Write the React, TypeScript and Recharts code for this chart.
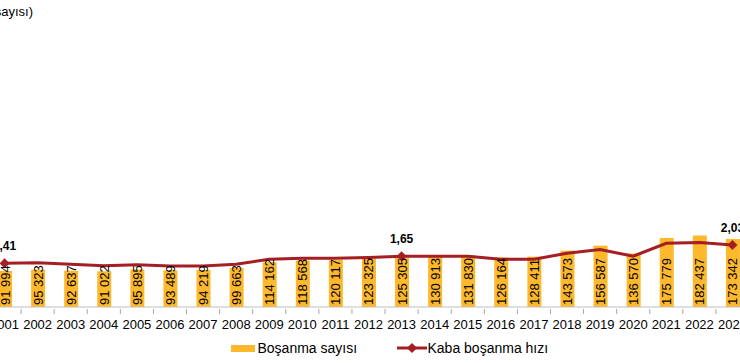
import { ComposedChart, Bar, Line, XAxis, YAxis, Legend, LabelList } from "recharts";

const years = [
  "2001", "2002", "2003", "2004", "2005", "2006", "2007", "2008", "2009", "2010", "2011", "2012",
  "2013", "2014", "2015", "2016", "2017", "2018", "2019", "2020", "2021", "2022", "2023",
];
const divorceCount = [
  91994, 95323, 92637, 91022, 95895, 93489, 94219, 99663, 114162, 118568, 120117, 123325,
  125305, 130913, 131830, 126164, 128411, 143573, 156587, 136570, 175779, 182437, 173342,
];
const crudeRate = [
  1.41, 1.43, 1.38, 1.33, 1.36, 1.32, 1.32, 1.38, 1.55, 1.58, 1.58, 1.61,
  1.65, 1.65, 1.65, 1.55, 1.55, 1.75, 1.88, 1.65, 2.09, 2.12, 2.03,
];
// only these points get a marker and a value label
const markedYears = ["2001", "2013", "2023"];

const data = years.map((year, i) => ({
  year,
  count: divorceCount[i],
  rate: crudeRate[i],
}));

const CHART_W = 761;
const CHART_H = 363;
const BAND = CHART_W / years.length;
const BAR_COLOR = "#FDB82B";
const LINE_COLOR = "#A51E23";
const FONT = "'Liberation Sans', Arial, sans-serif";

const fmtCount = (v: number) => String(v).replace(/\B(?=(\d{3})+(?!\d))/g, " ");
const fmtRate = (v: number) => v.toFixed(2).replace(".", ",");

const YearTick = (props: any) => {
  const { x, y, payload } = props;
  return (
    <g>
      <line x1={x - BAND / 2} x2={x - BAND / 2} y1={y} y2={y + 5} stroke="#A6A6A6" />
      <text x={x} y={y + 15} textAnchor="middle" dominantBaseline="central" fontSize={13} fill="#000" fontFamily={FONT}>
        {payload.value}
      </text>
    </g>
  );
};

const CountLabel = (props: any) => {
  const { x, y, width, height, value } = props;
  const cx = x + width / 2;
  const by = y + height - 2;
  return (
    <text
      x={cx}
      y={by}
      transform={`rotate(-90 ${cx} ${by})`}
      textAnchor="start"
      dominantBaseline="central"
      fontSize={13}
      fill="#000"
      fontFamily={FONT}
    >
      {fmtCount(value)}
    </text>
  );
};

const RateDot = (props: any) => {
  const { cx, cy, payload } = props;
  if (!markedYears.includes(payload.year)) return <g key={payload.year} />;
  return (
    <path
      key={payload.year}
      d={`M${cx},${cy - 5} L${cx + 5},${cy} L${cx},${cy + 5} L${cx - 5},${cy} Z`}
      fill={LINE_COLOR}
    />
  );
};

const RateLabel = (props: any) => {
  const { x, y, value, index } = props;
  if (!markedYears.includes(years[index])) return null;
  return (
    <text x={x} y={y - 17} textAnchor="middle" dominantBaseline="central" fontSize={12} fontWeight="bold" fill="#000" fontFamily={FONT}>
      {fmtRate(value)}
    </text>
  );
};

const LegendBox = () => (
  <div style={{ position: "relative", height: 24, fontFamily: FONT, fontSize: 14, color: "#000" }}>
    <div style={{ position: "absolute", left: 243, top: 9, width: 24, height: 7, background: BAR_COLOR }} />
    <div style={{ position: "absolute", left: 270, top: 3, lineHeight: "18px", whiteSpace: "nowrap" }}>Boşanma sayısı</div>
    <svg style={{ position: "absolute", left: 409, top: 4 }} width={30} height={16}>
      <line x1={0} x2={30} y1={8} y2={8} stroke={LINE_COLOR} strokeWidth={3} />
      <path d="M15,3 L20,8 L15,13 L10,8 Z" fill={LINE_COLOR} />
    </svg>
    <div style={{ position: "absolute", left: 440, top: 3, lineHeight: "18px", whiteSpace: "nowrap" }}>Kaba boşanma hızı</div>
  </div>
);

export default function App() {
  return (
    <div style={{ position: "fixed", left: 0, top: 0, width: 740, height: 363, overflow: "hidden", background: "#fff" }}>
      <div
        style={{
          position: "absolute",
          right: 707,
          top: 4,
          fontFamily: FONT,
          fontSize: 13,
          lineHeight: "16px",
          whiteSpace: "nowrap",
          color: "#000",
        }}
      >
        (Boşanma sayısı)
      </div>
      <div style={{ position: "absolute", left: -12.5, top: 0 }}>
        <ComposedChart width={CHART_W} height={CHART_H} data={data} margin={{ top: 17, right: 0, left: 0, bottom: 3 }}>
          <XAxis
            dataKey="year"
            height={29}
            tickLine={false}
            tickSize={0}
            axisLine={{ stroke: "#BFBFBF" }}
            tick={<YearTick />}
            interval={0}
          />
          <YAxis yAxisId="left" hide domain={[0, 740000]} />
          <YAxis yAxisId="right" orientation="right" hide domain={[-0.07, 9.76]} />
          <Legend verticalAlign="bottom" height={24} content={() => <LegendBox />} />
          <Bar yAxisId="left" dataKey="count" name="Boşanma sayısı" fill={BAR_COLOR} barSize={14} isAnimationActive={false}>
            <LabelList dataKey="count" content={<CountLabel />} />
          </Bar>
          <Line
            yAxisId="right"
            type="linear"
            dataKey="rate"
            name="Kaba boşanma hızı"
            stroke={LINE_COLOR}
            strokeWidth={3}
            dot={<RateDot />}
            activeDot={false}
            isAnimationActive={false}
          >
            <LabelList dataKey="rate" content={<RateLabel />} />
          </Line>
        </ComposedChart>
      </div>
    </div>
  );
}
